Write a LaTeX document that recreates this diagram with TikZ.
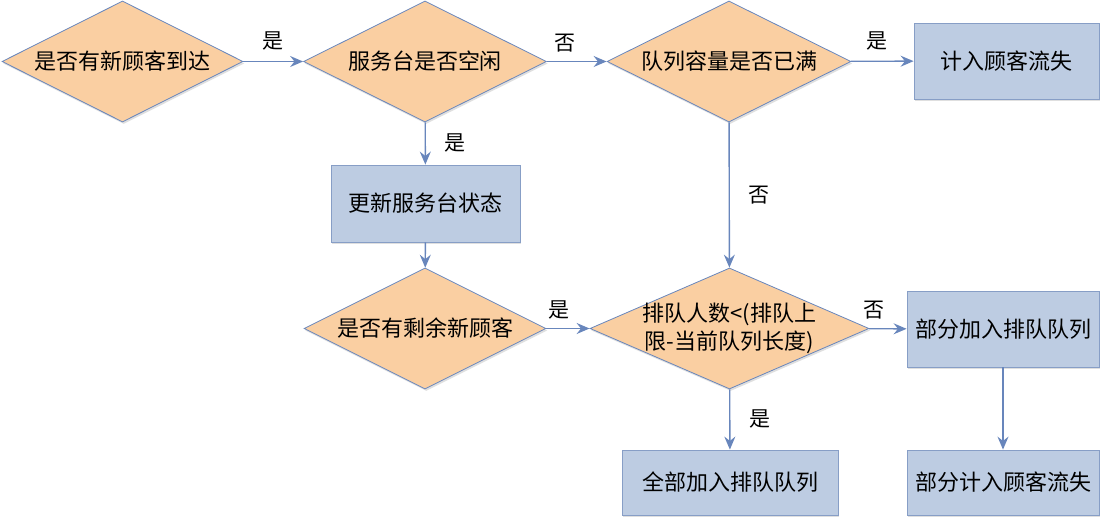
\documentclass[tikz,border=0pt]{standalone}
\usepackage{fontspec}
\setmainfont{Noto Sans CJK SC}
\usetikzlibrary{shapes.geometric,arrows.meta,shadows}
\definecolor{decfill}{RGB}{250,207,162}
\definecolor{decline}{RGB}{104,134,188}
\definecolor{boxfill}{RGB}{189,204,226}
\definecolor{boxline}{RGB}{135,158,198}
\definecolor{arrline}{RGB}{104,134,188}
\begin{document}
\begin{tikzpicture}[x=0.5pt,y=-0.5pt,
 dec/.style={diamond,draw=decline,fill=decfill,inner sep=0pt,minimum height=60.5pt,label={[align=center,font=\fontsize{11}{14}\selectfont]center:#1},drop shadow={shadow xshift=0.6pt,shadow yshift=-1pt,fill=black!25}},
 act/.style={rectangle,draw=boxline,fill=boxfill,inner sep=0pt,font=\fontsize{11}{13}\selectfont,drop shadow={shadow xshift=0.6pt,shadow yshift=-1pt,fill=black!25}},
 arr/.style={draw=arrline,line width=0.7pt,-{Stealth[length=6.5pt,width=5.5pt,inset=2.2pt]}},
 lab/.style={font=\fontsize{10.5}{12}\selectfont}]
\useasboundingbox (0,0) rectangle (1100,519);
\node[dec=是否有新顾客到达,minimum width=120.5pt] (arrive) at (122.5,61.5){};
\node[dec=服务台是否空闲,minimum width=121.5pt] (idle) at (425,61.5){};
\node[dec=队列容量是否已满,minimum width=122pt] (full) at (729,61.5){};
\node[act,minimum width=92.5pt,minimum height=38pt] (lost) at (1006.5,61){计入顾客流失};
\node[act,minimum width=94.5pt,minimum height=38.5pt] (update) at (425.5,203.5){更新服务台状态};
\node[dec=是否有剩余新顾客,minimum width=121pt] (remain) at (425,328.5){};
\node[dec={排队人数<(排队上\\限-当前队列长度)},minimum width=139.5pt] (cmp) at (729.5,328.5){};
\node[act,minimum width=96pt,minimum height=38pt] (partin) at (1003,329){部分加入排队队列};
\node[act,minimum width=108pt,minimum height=32.5pt] (allin) at (730,482.5){全部加入排队队列};
\node[act,minimum width=96pt,minimum height=32.5pt] (partlost) at (1003,482.5){部分计入顾客流失};
\draw[arr] (arrive)--(idle) node[lab,midway,above=2pt]{是};
\draw[arr] (idle)--(full) node[lab,pos=0.3,above=1pt]{否};
\draw[arr] (full)--(lost) node[lab,pos=0.42,above=2pt]{是};
\draw[arr] (idle)--(update) node[lab,midway,right=6pt]{是};
\draw[arr] (update)--(remain);
\draw[arr] (full)--(cmp) node[lab,midway,right=6pt]{否};
\draw[arr] (remain)--(cmp) node[lab,pos=0.3,above=1pt]{是};
\draw[arr] (cmp)--(partin) node[lab,pos=0.15,above=1pt]{否};
\draw[arr] (cmp)--(allin) node[lab,midway,right=6pt]{是};
\draw[arr] (partin)--(partlost);
\end{tikzpicture}
\end{document}
